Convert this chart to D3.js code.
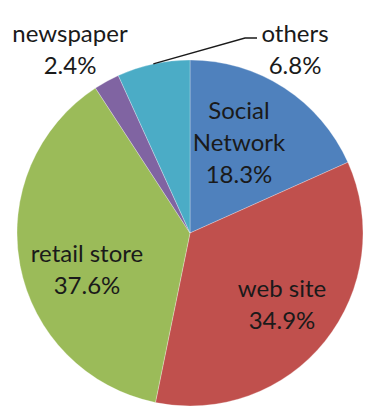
<!DOCTYPE html>
<html>
<head>
<meta charset="utf-8">
<script src="https://cdn.jsdelivr.net/npm/d3@7"></script>
<style>
  html, body { margin: 0; padding: 0; background: #fff; }
  svg text { font-family: Lato, "Open Sans", sans-serif; fill: #1a1a1a; }
</style>
</head>
<body>
<svg id="chart" width="367" height="416"></svg>
<script>
// Purchase channel shares (percent), clockwise from 12 o'clock
const categories = ["Social Network", "web site", "retail store", "newspaper", "others"];
const shares = [18.3, 34.9, 37.6, 2.4, 6.8];
const colors = ["#4F81BD", "#C0504D", "#9BBB59", "#8064A2", "#4BACC6"];

// Label lines per slice (name may wrap onto two lines)
const labelLines = [["Social", "Network"], ["web site"], ["retail store"], ["newspaper"], ["others"]];

const W = 367, H = 416;
const cx = 190, cy = 233, R = 173;
const fontSize = 24, lineH = 32;

// Anchor (centre x, first baseline y) of each label block
const labelAnchor = {
  "Social Network": [239, 119],
  "web site": [282, 297],
  "retail store": [87, 262],
  "newspaper": [70, 42],
  "others": [295, 42]
};

const svg = d3.select("#chart");
const g = svg.append("g").attr("transform", `translate(${cx},${cy})`);

const data = categories.map((c, i) => ({ name: c, value: shares[i], color: colors[i], lines: labelLines[i] }));

const pie = d3.pie().value(d => d.value).sort(null);
const arc = d3.arc().innerRadius(0).outerRadius(R);
const arcs = pie(data);

g.selectAll("path.slice")
  .data(arcs)
  .join("path")
  .attr("class", "slice")
  .attr("d", arc)
  .attr("fill", d => d.data.color)
  .attr("stroke", "#ffffff")
  .attr("stroke-opacity", 0.35)
  .attr("stroke-width", 0.8);

// Leader line for the "others" slice: from its outer edge mid-point up to its label
const othersArc = arcs[categories.indexOf("others")];
const midA = (othersArc.startAngle + othersArc.endAngle) / 2;
const p0 = [cx + Math.sin(midA) * R, cy - Math.cos(midA) * R];
const la = labelAnchor["others"];
svg.append("polyline")
  .attr("points", [p0, [la[0] - 50, la[1] - 4], [la[0] - 38, la[1] - 4]].map(p => p.join(",")).join(" "))
  .attr("fill", "none")
  .attr("stroke", "#1a1a1a")
  .attr("stroke-width", 1.3);

// Slice labels: name line(s) followed by the percentage
const labels = svg.selectAll("text.lbl")
  .data(arcs)
  .join("text")
  .attr("class", "lbl")
  .attr("text-anchor", "middle")
  .attr("font-size", fontSize)
  .attr("x", d => labelAnchor[d.data.name][0])
  .attr("y", d => labelAnchor[d.data.name][1]);

labels.each(function(d) {
  const t = d3.select(this);
  const [x, y] = labelAnchor[d.data.name];
  const lines = d.data.lines.concat([d3.format(".1f")(d.data.value) + "%"]);
  lines.forEach((s, i) => {
    t.append("tspan").attr("x", x).attr("y", y + i * lineH).text(s);
  });
});
</script>
</body>
</html>
